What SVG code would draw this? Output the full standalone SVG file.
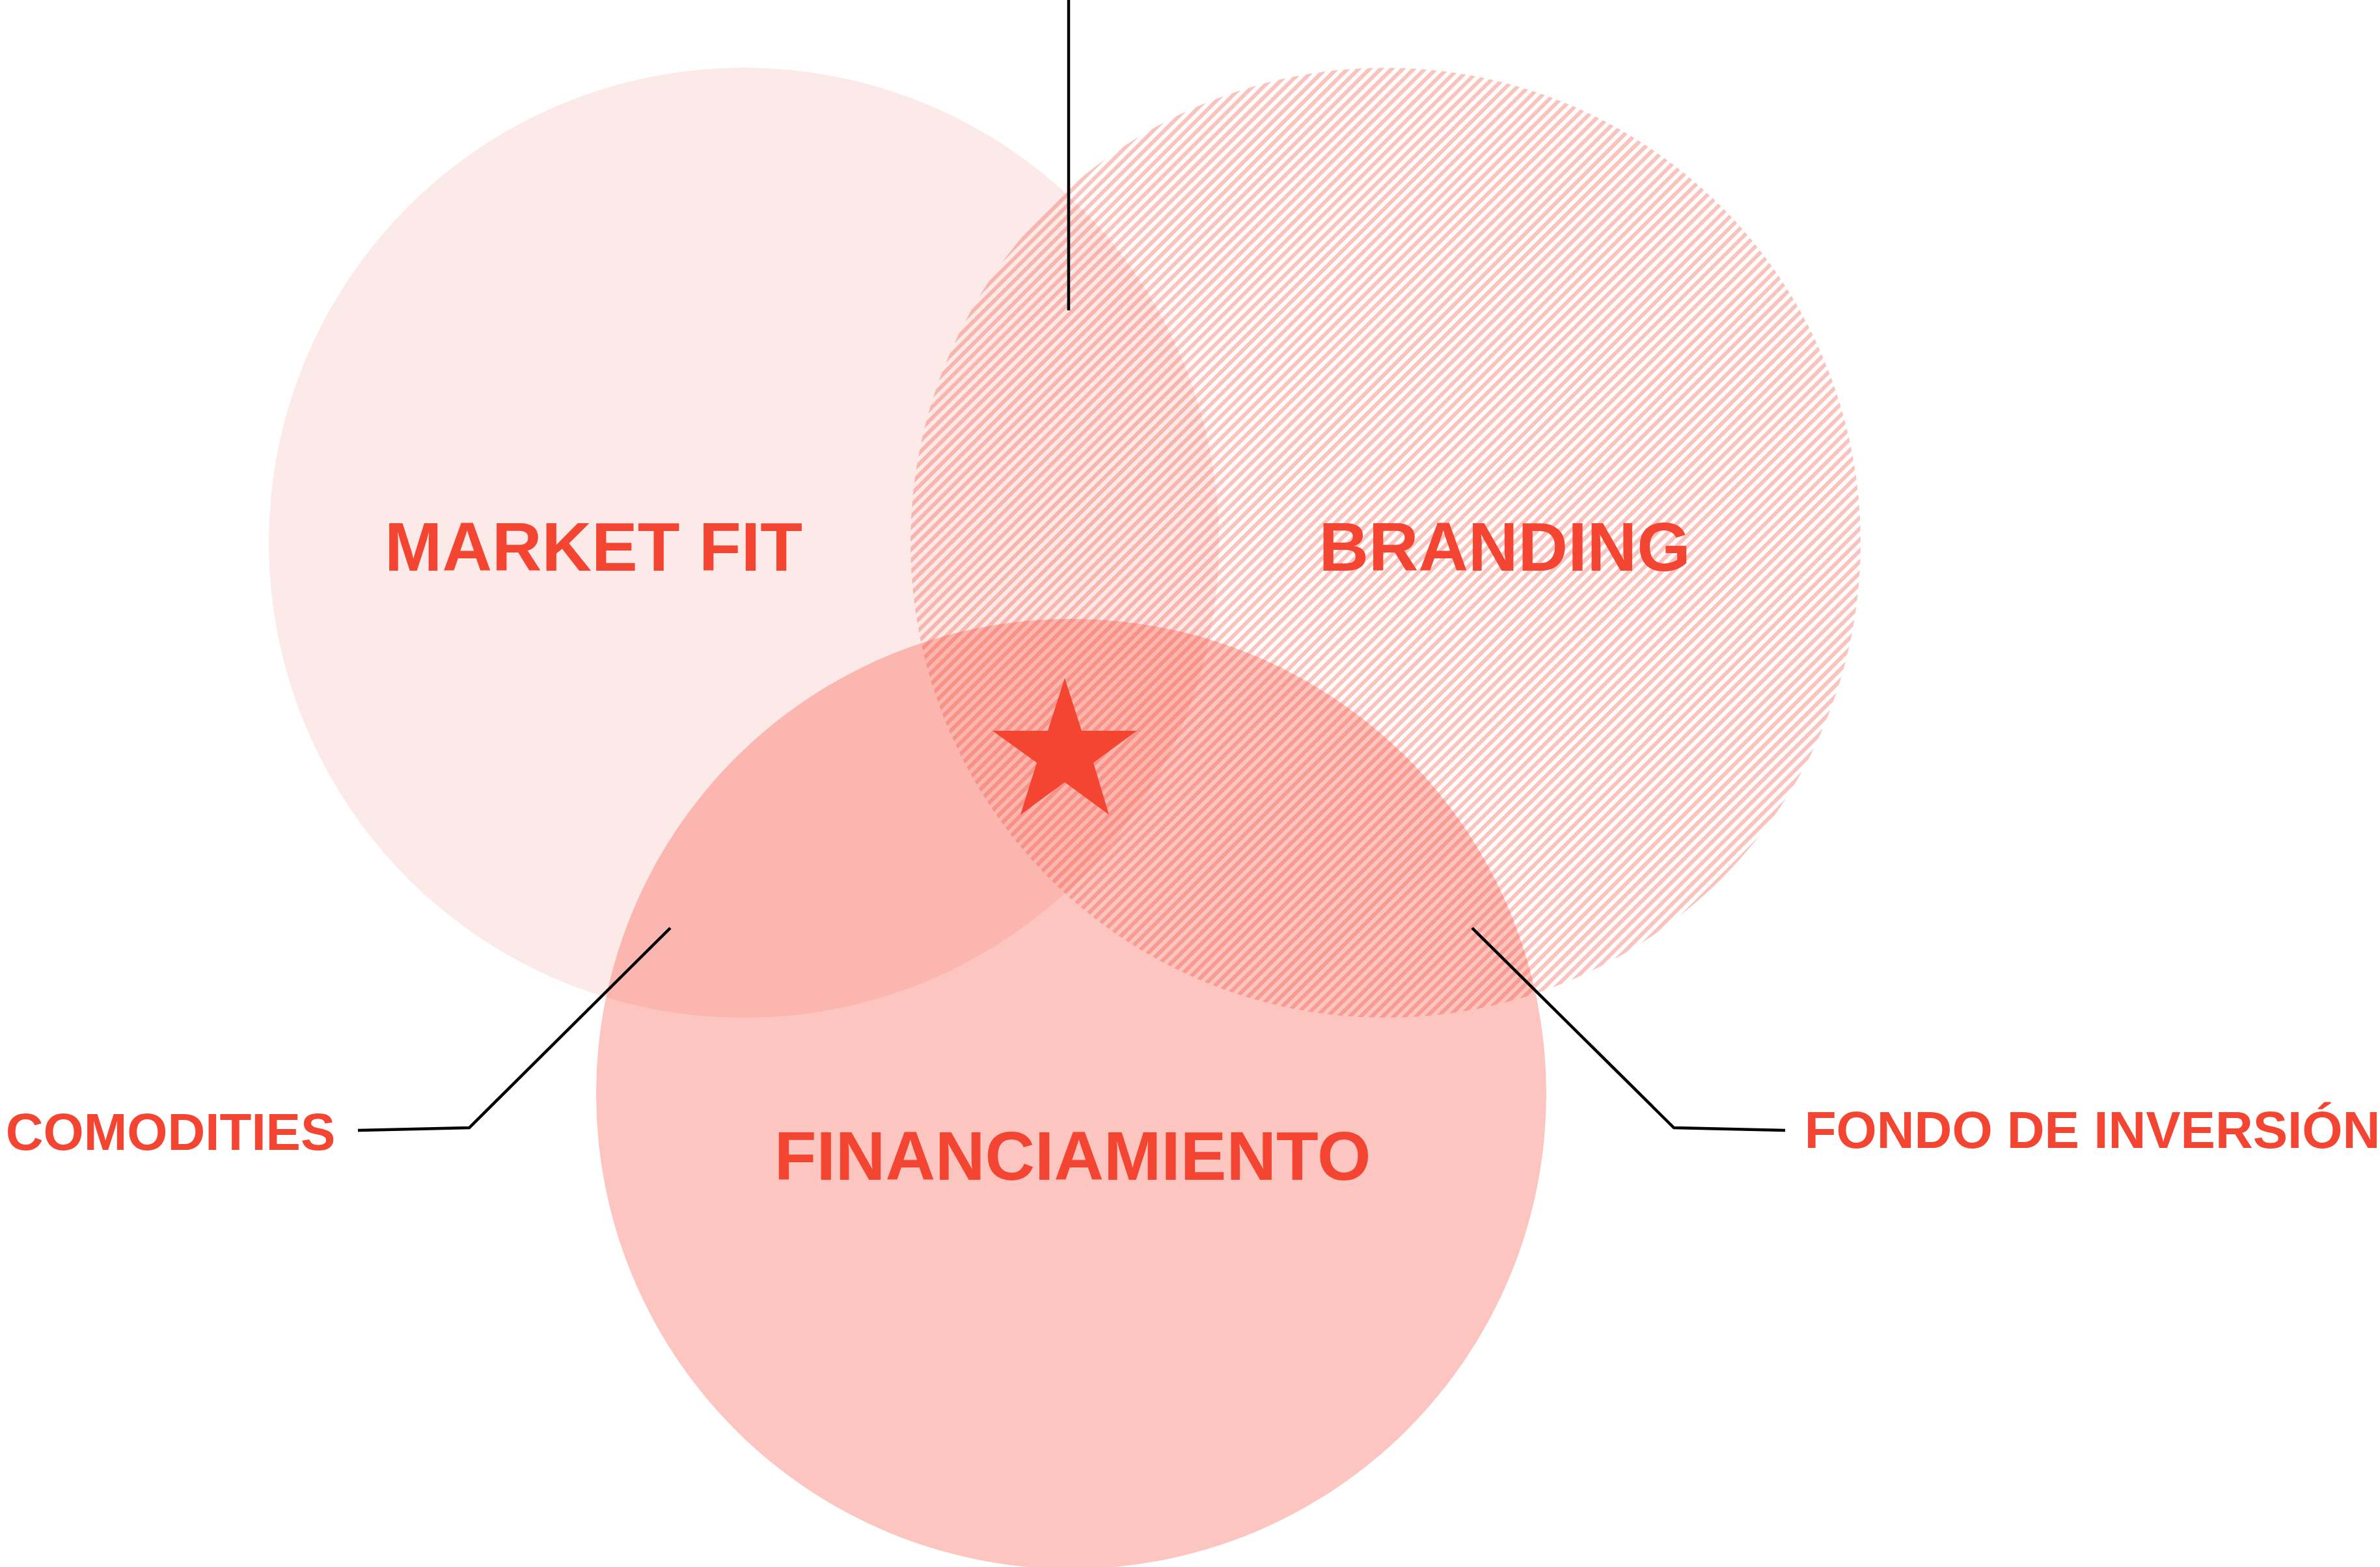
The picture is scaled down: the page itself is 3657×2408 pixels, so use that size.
<svg xmlns="http://www.w3.org/2000/svg" width="3657" height="2408" viewBox="0 0 3657 2408">
<style>
.lbl{font-family:"Liberation Sans",Arial,Helvetica,sans-serif;font-weight:bold;fill:#F44532;text-anchor:middle}
.big{font-size:106px}
.small{font-size:80px}
.conn{fill:none;stroke:#000;stroke-width:4.5;stroke-linejoin:miter}
</style>
<defs>
<pattern id="hatch" patternUnits="userSpaceOnUse" width="12" height="12" patternTransform="rotate(45)">
<rect x="0" y="0" width="6" height="12" fill="#F44532" fill-opacity="0.32"/>
</pattern>
</defs>
<rect width="3657" height="2408" fill="#fff"/>
<g id="market-fit">
<circle cx="1143" cy="834" r="730" fill="#FCEAE8"/>
</g>
<g id="branding">
<circle cx="2129" cy="834" r="730" fill="url(#hatch)"/>
</g>
<g id="financiamiento">
<circle cx="1646" cy="1681" r="730" fill="#F44532" fill-opacity="0.31"/>
</g>
<g id="labels">
<text class="lbl big" x="912" y="877">MARKET FIT</text>
<text class="lbl big" x="2312" y="877">BRANDING</text>
<text class="lbl big" x="1648" y="1813">FINANCIAMIENTO</text>
</g>
<g id="star">
<polygon points="1636,1042 1662,1123 1747,1123 1680,1172 1704,1252 1636,1202 1568,1252 1593,1172 1525,1123 1610,1123" fill="#F44532"/>
</g>
<g id="comodities">
<text class="lbl small" x="262" y="1767">COMODITIES</text>
</g>
<g id="fondo">
<text class="lbl small" x="3215" y="1764" font-size="79">FONDO DE INVERSIÓN</text>
</g>
<g id="connectors">
<path class="conn" d="M1642 0 V477"/>
<path class="conn" d="M550 1737 L721 1733 L1030 1426"/>
<path class="conn" d="M2743 1737 L2572 1733 L2262 1426"/>
</g>
</svg>
